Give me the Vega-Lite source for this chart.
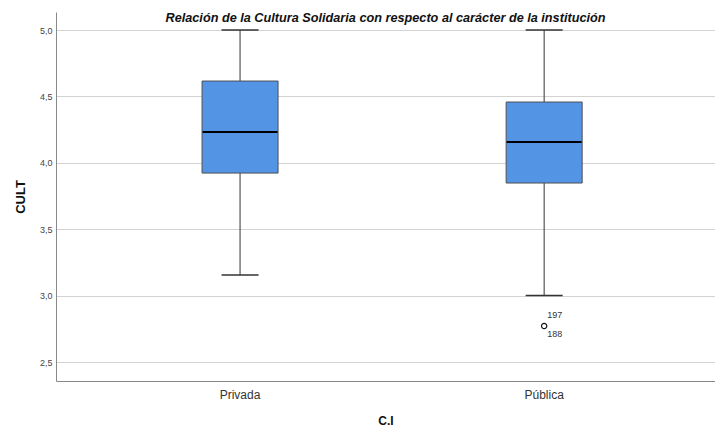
{
  "$schema": "https://vega.github.io/schema/vega-lite/v6.json",
  "autosize": {"type": "none"},
  "width": 659,
  "height": 369,
  "padding": {"left": 56, "top": 12, "right": 0, "bottom": 47},
  "background": "white",
  "config": {
    "font": "Liberation Sans",
    "view": {"stroke": null}
  },
  "title": {
    "text": "Relación de la Cultura Solidaria con respecto al carácter de la institución",
    "font": "Liberation Sans",
    "fontSize": 12.7,
    "fontStyle": "italic",
    "fontWeight": "bold",
    "color": "#111111",
    "anchor": "middle",
    "baseline": "top",
    "offset": -13
  },
  "datasets": {
    "boxes": [
      {"ci": "Privada", "min": 3.155, "q1": 3.923, "median": 4.232, "q3": 4.616, "max": 5.0},
      {"ci": "Pública", "min": 3.0, "q1": 3.848, "median": 4.157, "q3": 4.458, "max": 5.0}
    ],
    "outliers": [
      {"ci": "Pública", "value": 2.771, "label": "197", "pos": "above"},
      {"ci": "Pública", "value": 2.771, "label": "188", "pos": "below"}
    ]
  },
  "encoding": {
    "x": {
      "field": "ci",
      "type": "nominal",
      "sort": ["Privada", "Pública"],
      "scale": {"domain": ["Privada", "Pública"], "paddingInner": 0, "paddingOuter": 0.0835, "align": 0.63},
      "axis": {
        "title": "C.I",
        "titleFont": "Liberation Sans",
        "titleFontSize": 12,
        "titleFontWeight": "bold",
        "titleColor": "#111111",
        "titlePadding": 15,
        "labelFont": "Liberation Sans",
        "labelFontSize": 12,
        "labelColor": "#333333",
        "labelAngle": 0,
        "labelPadding": 8,
        "ticks": false,
        "domainColor": "#888888",
        "domainWidth": 1,
        "grid": false
      }
    }
  },
  "layer": [
    {
      "data": {"name": "boxes"},
      "mark": {"type": "rule", "color": "#333333", "strokeWidth": 1},
      "encoding": {
        "y": {
          "field": "min",
          "type": "quantitative",
          "scale": {"domain": [2.357, 5.136], "nice": false, "zero": false},
          "axis": {
            "title": "CULT",
            "titleFont": "Liberation Sans",
            "titleFontSize": 13,
            "titleFontWeight": "bold",
            "titleColor": "#111111",
            "titlePadding": 12,
            "values": [2.5, 3.0, 3.5, 4.0, 4.5, 5.0],
            "labelExpr": "replace(format(datum.value, '.1f'), '.', ',')",
            "labelFont": "Liberation Sans",
            "labelFontSize": 9,
            "labelColor": "#444444",
            "labelPadding": 4,
            "ticks": false,
            "grid": true,
            "gridColor": "#d3d3d3",
            "gridWidth": 1,
            "domainColor": "#888888",
            "domainWidth": 1
          }
        },
        "y2": {"field": "max"}
      }
    },
    {
      "data": {"name": "boxes"},
      "mark": {"type": "tick", "color": "#333333", "size": 37, "thickness": 1.5, "opacity": 1},
      "encoding": {"y": {"field": "min", "type": "quantitative"}}
    },
    {
      "data": {"name": "boxes"},
      "mark": {"type": "tick", "color": "#333333", "size": 37, "thickness": 1.5, "opacity": 1},
      "encoding": {"y": {"field": "max", "type": "quantitative"}}
    },
    {
      "data": {"name": "boxes"},
      "mark": {"type": "bar", "size": 76, "fill": "#5394e4", "stroke": "#4d5056", "strokeWidth": 1},
      "encoding": {
        "y": {"field": "q1", "type": "quantitative"},
        "y2": {"field": "q3"}
      }
    },
    {
      "data": {"name": "boxes"},
      "mark": {"type": "tick", "color": "#000000", "size": 75, "thickness": 2, "opacity": 1},
      "encoding": {"y": {"field": "median", "type": "quantitative"}}
    },
    {
      "data": {"name": "outliers"},
      "transform": [{"filter": "datum.pos === 'above'"}],
      "mark": {"type": "point", "shape": "circle", "size": 28, "filled": false, "stroke": "#111111", "strokeWidth": 1.2, "opacity": 1},
      "encoding": {"y": {"field": "value", "type": "quantitative"}}
    },
    {
      "data": {"name": "outliers"},
      "transform": [{"filter": "datum.pos === 'above'"}],
      "mark": {"type": "text", "align": "left", "baseline": "middle", "dx": 3, "dy": -11, "fontSize": 9, "font": "Liberation Sans", "color": "#333333"},
      "encoding": {
        "y": {"field": "value", "type": "quantitative"},
        "text": {"field": "label"}
      }
    },
    {
      "data": {"name": "outliers"},
      "transform": [{"filter": "datum.pos === 'below'"}],
      "mark": {"type": "text", "align": "left", "baseline": "middle", "dx": 3, "dy": 8, "fontSize": 9, "font": "Liberation Sans", "color": "#333333"},
      "encoding": {
        "y": {"field": "value", "type": "quantitative"},
        "text": {"field": "label"}
      }
    }
  ]
}
